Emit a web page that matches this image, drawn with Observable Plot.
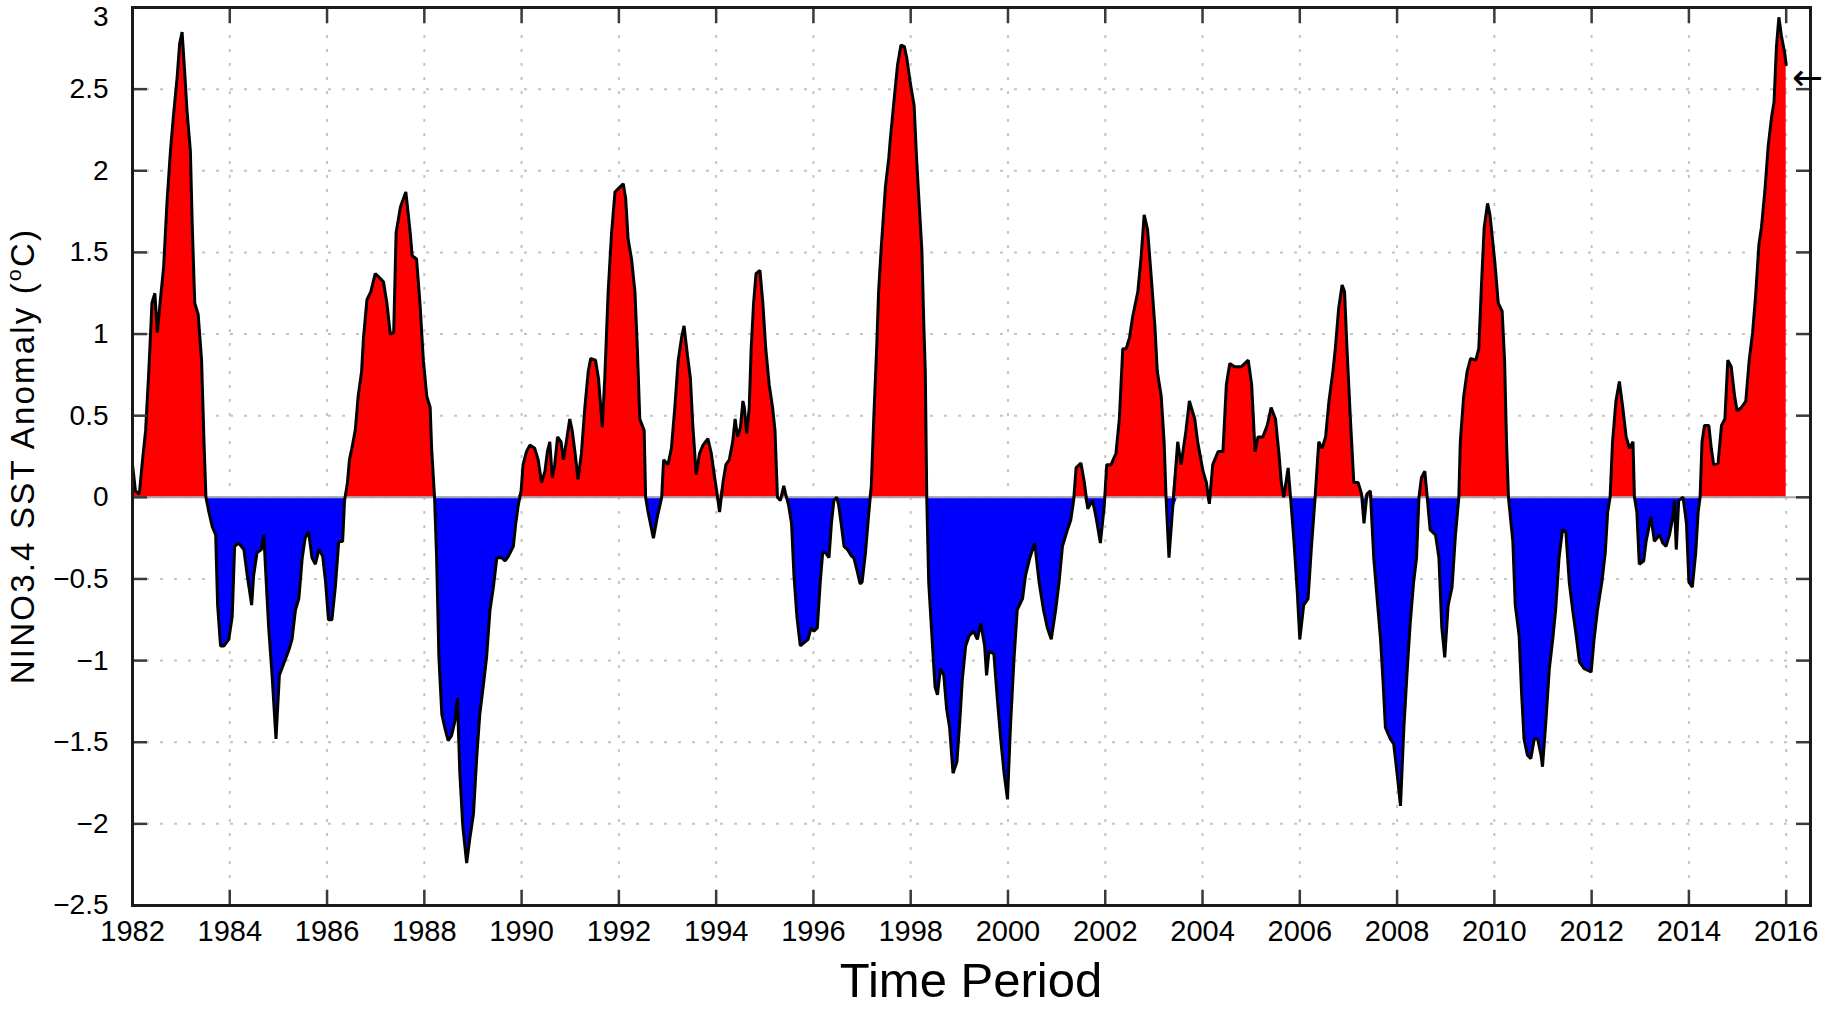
<!DOCTYPE html>
<html>
<head>
<meta charset="utf-8">
<script src="https://cdn.jsdelivr.net/npm/d3@7"></script>
<script src="https://cdn.jsdelivr.net/npm/@observablehq/plot@0.6"></script>
<style>
  html, body { margin: 0; padding: 0; background: #ffffff; overflow: hidden; }
</style>
</head>
<body>
<script>
// Decimal years
const years = [
  1982.00,1982.06,1982.14,1982.20,1982.27,1982.34,1982.40,1982.46,1982.51,1982.58,1982.64,1982.71,1982.78,1982.84,1982.92,1982.97,
  1983.02,1983.07,1983.12,1983.19,1983.23,1983.28,1983.35,1983.42,1983.47,1983.51,1983.57,1983.64,1983.71,1983.75,1983.81,1983.88,1983.98,
  1984.05,1984.10,1984.18,1984.29,1984.36,1984.45,1984.49,1984.56,1984.65,1984.70,1984.75,1984.80,1984.87,1984.95,
  1985.02,1985.12,1985.21,1985.28,1985.35,1985.42,1985.49,1985.55,1985.62,1985.69,1985.76,1985.83,1985.91,1985.97,
  1986.03,1986.10,1986.17,1986.24,1986.32,1986.36,1986.42,1986.46,1986.51,1986.58,1986.64,1986.71,1986.75,1986.82,1986.90,1986.99,
  1987.06,1987.16,1987.23,1987.30,1987.37,1987.42,1987.51,1987.62,1987.71,1987.75,1987.84,1987.91,1987.98,
  1988.05,1988.12,1988.15,1988.21,1988.25,1988.30,1988.36,1988.42,1988.49,1988.56,1988.63,1988.68,1988.73,1988.79,1988.87,1988.94,
  1989.01,1989.08,1989.14,1989.21,1989.28,1989.35,1989.42,1989.49,1989.59,1989.66,1989.73,1989.83,1989.88,1989.93,1989.99,
  1990.03,1990.10,1990.17,1990.27,1990.34,1990.41,1990.48,1990.53,1990.58,1990.63,1990.68,1990.74,1990.81,1990.86,1990.92,1990.99,
  1991.04,1991.10,1991.16,1991.23,1991.30,1991.37,1991.42,1991.52,1991.58,1991.66,1991.71,1991.78,1991.85,1991.92,
  1992.02,1992.09,1992.14,1992.19,1992.26,1992.33,1992.38,1992.43,1992.52,1992.55,1992.60,1992.71,1992.79,1992.88,1992.92,
  1993.01,1993.08,1993.15,1993.22,1993.29,1993.34,1993.41,1993.47,1993.52,1993.59,1993.66,1993.73,1993.83,1993.90,1993.97,
  1994.02,1994.07,1994.14,1994.20,1994.27,1994.34,1994.39,1994.44,1994.50,1994.55,1994.58,1994.63,1994.68,1994.72,1994.77,1994.82,1994.90,1994.96,
  1995.02,1995.09,1995.16,1995.21,1995.26,1995.32,1995.39,1995.43,1995.49,1995.55,1995.60,1995.66,1995.73,1995.81,1995.89,1995.95,
  1996.01,1996.08,1996.14,1996.19,1996.25,1996.32,1996.37,1996.42,1996.48,1996.52,1996.57,1996.63,1996.70,1996.78,1996.83,1996.89,1996.96,
  1997.00,1997.07,1997.14,1997.19,1997.24,1997.30,1997.34,1997.39,1997.48,1997.55,1997.58,1997.67,1997.73,1997.80,1997.87,1997.92,1997.99,
  1998.07,1998.12,1998.16,1998.23,1998.27,1998.30,1998.33,1998.37,1998.44,1998.50,1998.55,1998.61,1998.68,1998.74,1998.80,1998.87,1998.95,
  1999.01,1999.06,1999.13,1999.20,1999.29,1999.37,1999.44,1999.52,1999.56,1999.61,1999.71,1999.78,1999.85,1999.92,1999.99,
  2000.05,2000.12,2000.19,2000.30,2000.36,2000.45,2000.55,2000.64,2000.73,2000.81,2000.89,2000.98,
  2001.05,2001.12,2001.22,2001.29,2001.35,2001.40,2001.50,2001.57,2001.64,2001.74,2001.81,2001.90,2001.98,
  2002.03,2002.12,2002.22,2002.29,2002.36,2002.43,2002.50,2002.56,2002.67,2002.74,2002.80,2002.87,2002.94,
  2003.02,2003.07,2003.15,2003.21,2003.25,2003.31,2003.38,2003.49,2003.56,2003.66,2003.73,2003.84,2003.90,
  2004.01,2004.08,2004.14,2004.21,2004.32,2004.42,2004.49,2004.56,2004.66,2004.80,2004.94,
  2005.01,2005.08,2005.14,2005.24,2005.33,2005.41,2005.50,2005.57,2005.62,2005.67,2005.76,2005.81,2005.88,2005.95,
  2006.00,2006.08,2006.17,2006.24,2006.31,2006.39,2006.46,2006.53,2006.60,2006.68,2006.73,2006.80,2006.87,2006.92,2006.97,
  2007.04,2007.11,2007.20,2007.27,2007.32,2007.38,2007.45,2007.52,2007.59,2007.66,2007.71,2007.76,2007.86,2007.93,
  2008.00,2008.07,2008.14,2008.21,2008.27,2008.34,2008.40,2008.45,2008.50,2008.57,2008.62,2008.68,2008.79,2008.86,2008.92,2008.98,
  2009.05,2009.13,2009.20,2009.27,2009.30,2009.37,2009.44,2009.51,2009.62,2009.68,2009.74,2009.79,2009.86,2009.91,
  2010.01,2010.08,2010.16,2010.21,2010.25,2010.29,2010.38,2010.43,2010.51,2010.56,2010.61,2010.68,2010.75,2010.82,2010.89,2010.96,2010.99,
  2011.06,2011.13,2011.20,2011.26,2011.33,2011.40,2011.47,2011.54,2011.61,2011.68,2011.75,2011.85,2011.99,
  2012.05,2012.12,2012.21,2012.28,2012.33,2012.38,2012.43,2012.50,2012.57,2012.64,2012.71,2012.78,2012.85,2012.88,2012.93,2012.98,
  2013.07,2013.12,2013.22,2013.29,2013.40,2013.46,2013.53,2013.60,2013.67,2013.70,2013.74,2013.79,2013.88,2013.95,
  2014.00,2014.07,2014.14,2014.19,2014.23,2014.27,2014.32,2014.41,2014.46,2014.51,2014.60,2014.67,2014.74,2014.80,2014.87,2014.94,2014.99,
  2015.08,2015.17,2015.24,2015.31,2015.37,2015.44,2015.49,2015.56,2015.63,2015.70,2015.75,2015.80,2015.85,2015.90,2015.97,2016.00
];

// NINO3.4 SST anomaly (°C) at those dates
const anomaly = [
  0.20,0.04,0.02,0.21,0.41,0.80,1.19,1.25,1.01,1.23,1.41,1.81,2.12,2.33,2.58,2.78,
  2.85,2.62,2.37,2.12,1.65,1.19,1.12,0.84,0.34,0.00,-0.09,-0.18,-0.23,-0.66,-0.91,-0.91,-0.87,
  -0.73,-0.30,-0.28,-0.32,-0.48,-0.66,-0.48,-0.34,-0.32,-0.23,-0.52,-0.80,-1.09,-1.48,
  -1.09,-1.01,-0.94,-0.87,-0.69,-0.62,-0.37,-0.25,-0.21,-0.37,-0.41,-0.32,-0.36,-0.52,
  -0.75,-0.75,-0.55,-0.27,-0.27,-0.02,0.09,0.23,0.30,0.41,0.62,0.77,0.98,1.21,1.26,1.37,
  1.35,1.32,1.19,1.00,1.01,1.62,1.78,1.87,1.62,1.48,1.46,1.19,0.84,
  0.62,0.55,0.30,0.00,-0.34,-0.98,-1.33,-1.41,-1.49,-1.46,-1.37,-1.23,-1.69,-2.01,-2.24,-2.08,
  -1.94,-1.58,-1.33,-1.16,-0.98,-0.69,-0.55,-0.37,-0.37,-0.39,-0.36,-0.30,-0.16,-0.05,0.04,
  0.20,0.28,0.32,0.30,0.23,0.09,0.16,0.28,0.34,0.12,0.20,0.37,0.34,0.23,0.34,0.48,
  0.41,0.27,0.11,0.27,0.55,0.77,0.85,0.84,0.73,0.43,0.73,1.26,1.62,1.87,
  1.90,1.92,1.83,1.58,1.46,1.26,0.91,0.48,0.41,0.00,-0.09,-0.25,-0.12,0.00,0.23,
  0.20,0.30,0.55,0.84,0.98,1.05,0.87,0.73,0.44,0.14,0.27,0.32,0.36,0.27,0.12,
  0.02,-0.09,0.09,0.20,0.23,0.34,0.48,0.37,0.43,0.59,0.55,0.39,0.55,0.91,1.19,1.37,1.39,1.19,
  0.91,0.69,0.55,0.41,0.00,-0.02,0.07,0.02,-0.05,-0.16,-0.48,-0.73,-0.91,-0.89,-0.87,-0.80,
  -0.82,-0.80,-0.52,-0.34,-0.34,-0.37,-0.16,-0.02,0.00,-0.05,-0.16,-0.30,-0.32,-0.36,-0.37,-0.44,-0.53,
  -0.52,-0.34,-0.09,0.07,0.48,0.91,1.26,1.51,1.90,2.08,2.19,2.47,2.65,2.77,2.76,2.69,2.54,
  2.40,2.08,1.87,1.51,1.05,0.77,0.00,-0.52,-0.87,-1.16,-1.21,-1.05,-1.09,-1.30,-1.41,-1.69,-1.62,
  -1.37,-1.12,-0.91,-0.85,-0.82,-0.87,-0.77,-0.91,-1.09,-0.94,-0.96,-1.23,-1.48,-1.69,-1.85,
  -1.41,-1.01,-0.69,-0.62,-0.48,-0.37,-0.28,-0.52,-0.69,-0.80,-0.87,-0.69,
  -0.52,-0.30,-0.20,-0.14,-0.02,0.18,0.21,0.09,-0.07,-0.02,-0.12,-0.28,-0.05,
  0.20,0.20,0.27,0.48,0.91,0.91,0.98,1.10,1.26,1.48,1.73,1.64,1.37,
  1.05,0.77,0.62,0.34,0.00,-0.37,-0.09,0.34,0.20,0.41,0.59,0.48,0.34,
  0.16,0.09,-0.04,0.20,0.28,0.28,0.69,0.82,0.80,0.80,0.84,
  0.69,0.28,0.37,0.37,0.44,0.55,0.48,0.27,0.09,0.00,0.18,0.00,-0.27,-0.59,
  -0.87,-0.66,-0.62,-0.30,-0.02,0.34,0.30,0.37,0.59,0.77,0.91,1.16,1.30,1.26,0.91,
  0.48,0.09,0.09,0.02,-0.16,0.02,0.04,-0.37,-0.62,-0.87,-1.12,-1.41,-1.48,-1.51,
  -1.69,-1.89,-1.41,-1.05,-0.77,-0.52,-0.37,0.00,0.12,0.16,0.00,-0.20,-0.23,-0.37,-0.80,-0.98,
  -0.66,-0.55,-0.23,0.00,0.34,0.62,0.77,0.85,0.84,0.91,1.33,1.65,1.80,1.73,
  1.44,1.19,1.14,0.84,0.34,0.00,-0.27,-0.66,-0.85,-1.20,-1.48,-1.58,-1.60,-1.48,-1.48,-1.58,-1.65,
  -1.37,-1.05,-0.87,-0.69,-0.37,-0.20,-0.21,-0.52,-0.69,-0.84,-1.01,-1.05,-1.07,
  -0.87,-0.69,-0.52,-0.34,-0.09,0.00,0.34,0.59,0.71,0.55,0.37,0.30,0.34,0.00,-0.09,-0.41,
  -0.39,-0.27,-0.12,-0.27,-0.23,-0.28,-0.30,-0.23,-0.12,-0.02,-0.32,-0.02,0.00,-0.16,
  -0.52,-0.55,-0.34,-0.09,0.00,0.34,0.44,0.44,0.30,0.20,0.21,0.44,0.48,0.84,0.80,0.62,0.53,
  0.55,0.59,0.84,1.01,1.23,1.55,1.65,1.87,2.15,2.33,2.42,2.76,2.94,2.83,2.72,2.65
];

// Latest value marked by the arrow on the right
const latestValue = [2.57];

// Tick values and texts
const xTicks = [1982,1984,1986,1988,1990,1992,1994,1996,1998,2000,2002,2004,2006,2008,2010,2012,2014,2016];
const yTicks = [-2.5,-2,-1.5,-1,-0.5,0,0.5,1,1.5,2,2.5,3];
const yTickLabels = ["\u22122.5","\u22122","\u22121.5","\u22121","\u22120.5","0","0.5","1","1.5","2","2.5","3"];
const xTitle = "Time Period";
const yTitle = "NINO3.4 SST Anomaly (";
const yUnitSup = "o";
const yUnit = "C)";

const data = years.map((year, i) => ({year, v: anomaly[i]}));

const gridStyle = {stroke: "#c4c4c4", strokeOpacity: 1, strokeWidth: 2, strokeDasharray: "3,11"};
const tickStyle = {stroke: "#3a3a3a", strokeWidth: 2.5, tickSize: -15};

const chart = Plot.plot({
  width: 1826,
  height: 1009,
  marginTop: 7,
  marginBottom: 104,
  marginLeft: 132,
  marginRight: 16,
  style: {fontFamily: "'Liberation Sans', Arial, Helvetica, sans-serif", background: "#ffffff", color: "#000"},
  x: {domain: [1982, 2016.5], label: null},
  y: {domain: [-2.5, 3], label: null},
  marks: [
    Plot.gridX(xTicks, gridStyle),
    Plot.gridY(yTicks, gridStyle),
    Plot.areaY(data, {x: "year", y: d => Math.max(d.v, 0), fill: "#ff0000"}),
    Plot.areaY(data, {x: "year", y: d => Math.min(d.v, 0), fill: "#0000ff"}),
    Plot.ruleY([0], {stroke: "#a8a8a8", strokeWidth: 2}),
    Plot.line(data, {x: "year", y: "v", stroke: "#000", strokeWidth: 3, strokeLinejoin: "miter"}),
    Plot.axisY(yTicks, {anchor: "left", ...tickStyle, tickPadding: 39, fontSize: 28, fill: "#000", label: null,
      tickFormat: d => yTickLabels[yTicks.indexOf(d)]}),
    Plot.axisY(yTicks, {anchor: "right", ...tickStyle, fill: "none", label: null}),
    Plot.axisX(xTicks, {anchor: "bottom", ...tickStyle, tickPadding: 30, fontSize: 29, fill: "#000", tickFormat: "d", label: null}),
    Plot.axisX(xTicks, {anchor: "top", ...tickStyle, fill: "none", label: null}),
    Plot.frame({stroke: "#1a1a1a", strokeWidth: 3}),
    Plot.text(latestValue, {frameAnchor: "right", y: d => d, text: () => "\u2190", dx: -3, fontSize: 37, fontFamily: "DejaVu Sans", fill: "#000", textAnchor: "middle", lineAnchor: "middle"})
  ]
});

document.body.appendChild(chart);

const svg = d3.select(chart);

// keep the topmost y tick label fully inside the picture
svg.selectAll("text").filter(function () { return this.textContent === yTickLabels[yTickLabels.length - 1]; })
  .each(function () {
    const t = this.getAttribute("transform") || "";
    this.setAttribute("transform", t + " translate(0,10)");
  });

svg.append("text")
  .attr("x", 971)
  .attr("y", 997)
  .attr("text-anchor", "middle")
  .attr("font-size", 49)
  .attr("fill", "#000")
  .text(xTitle);

const yt = svg.append("text")
  .attr("transform", "translate(34,456) rotate(-90)")
  .attr("text-anchor", "middle")
  .attr("font-size", 33)
  .attr("letter-spacing", 2.2)
  .attr("fill", "#000");
yt.append("tspan").text(yTitle);
yt.append("tspan").attr("font-size", 21).attr("dy", -13).text(yUnitSup);
yt.append("tspan").attr("dy", 13).text(yUnit);
</script>
</body>
</html>
